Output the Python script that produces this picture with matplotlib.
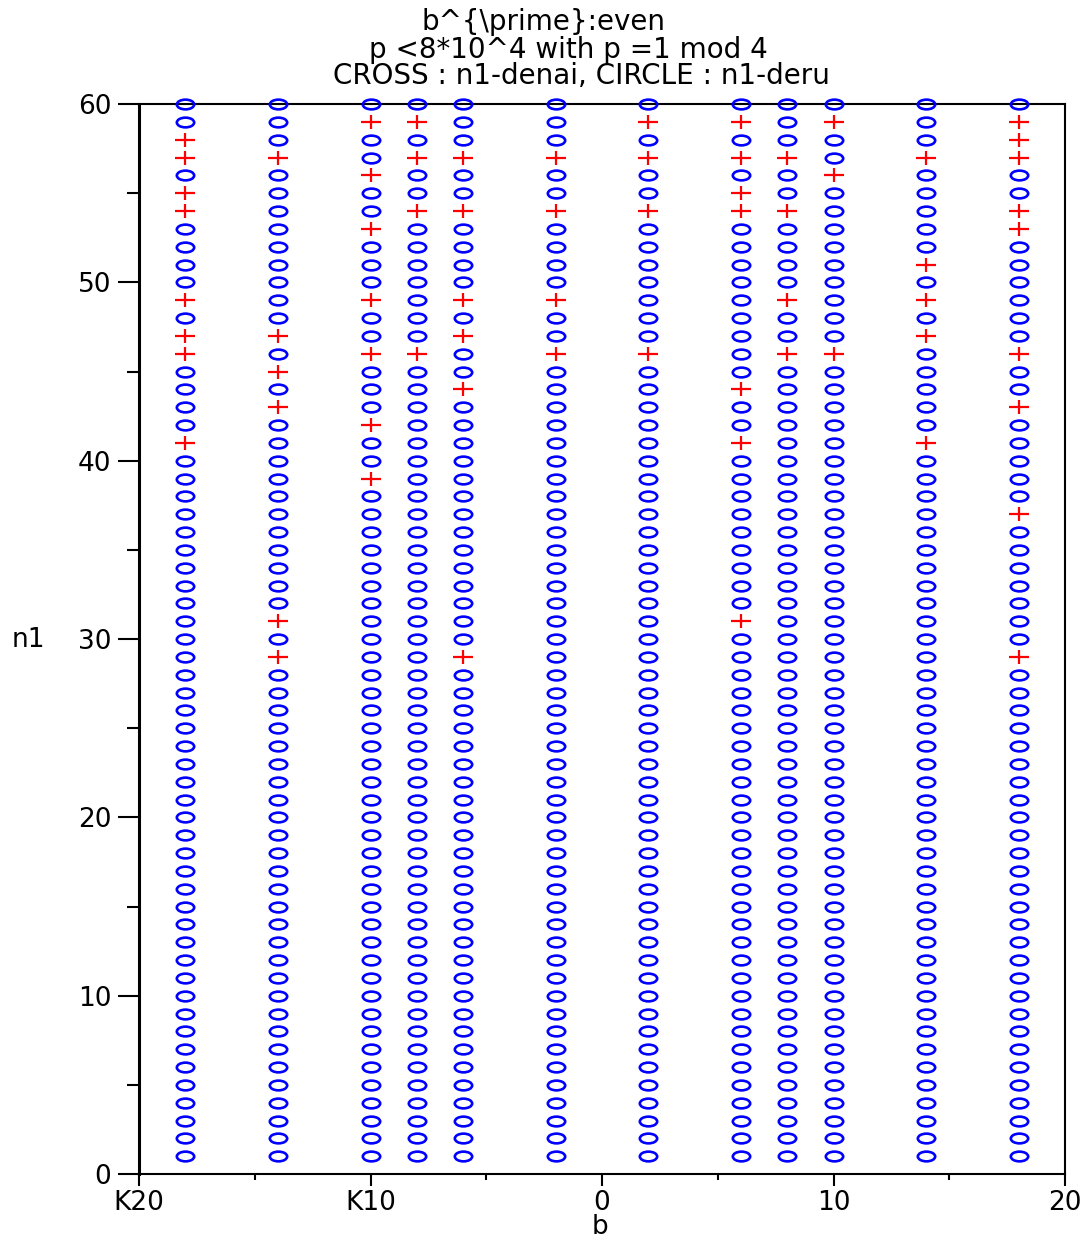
import matplotlib
matplotlib.use("Agg")
import matplotlib.pyplot as plt
from matplotlib.path import Path
from matplotlib.transforms import Affine2D
from matplotlib.ticker import FixedLocator

# ===== DATA =====
b_values = [-18, -14, -10, -8, -6, -2, 2, 6, 8, 10, 14, 18]
n1_values = list(range(1, 61))

# n1 values marked with a cross (n1-denai), one list per b column
denai_m18 = [41, 46, 47, 49, 54, 55, 57, 58]
denai_m14 = [29, 31, 43, 45, 47, 57]
denai_m10 = [39, 42, 46, 49, 53, 56, 59]
denai_m8 = [46, 54, 57, 59]
denai_m6 = [29, 44, 47, 49, 54, 57]
denai_m2 = [46, 49, 54, 57]
denai_p2 = [46, 54, 57, 59]
denai_p6 = [31, 41, 44, 54, 55, 57, 59]
denai_p8 = [46, 49, 54, 57]
denai_p10 = [46, 56, 59]
denai_p14 = [41, 47, 49, 51, 57]
denai_p18 = [29, 37, 43, 46, 53, 54, 57, 58, 59]
denai_cols = [denai_m18, denai_m14, denai_m10, denai_m8, denai_m6, denai_m2,
              denai_p2, denai_p6, denai_p8, denai_p10, denai_p14, denai_p18]

xtick_values = [-20, -10, 0, 10, 20]
xtick_labels = ["K20", "K10", "0", "10", "20"]
ytick_values = [0, 10, 20, 30, 40, 50, 60]

title_lines = ["b^{\\prime}:even",
               "p <8*10^4 with p =1 mod 4",
               "CROSS : n1-denai, CIRCLE : n1-deru"]

# ===== MARKERS (flattened like the original) =====
ellipse = Path.unit_circle().transformed(Affine2D().scale(1, 0.56))
plus = Path([(-1, 0), (1, 0), (0, -0.65), (0, 0.65)],
            [Path.MOVETO, Path.LINETO, Path.MOVETO, Path.LINETO])

plt.rcParams['font.family'] = ['DejaVu Sans']

W, H = 1086, 1241
fig = plt.figure(figsize=(W / 100, H / 100), dpi=100)
ax = fig.add_axes([139 / W, 1 - 1174 / H, (1065 - 139) / W, (1174 - 104) / H])

for b, crosses in zip(b_values, denai_cols):
    xs_c, ys_c, xs_o, ys_o = [], [], [], []
    for n in n1_values:
        if n in crosses:
            xs_c.append(b); ys_c.append(n)
        else:
            xs_o.append(b); ys_o.append(n)
    ax.plot(xs_o, ys_o, linestyle="none", marker=ellipse, markersize=12.5,
            markerfacecolor="none", markeredgecolor="#0000ff",
            markeredgewidth=1.9, clip_on=False, zorder=3)
    ax.plot(xs_c, ys_c, linestyle="none", marker=plus, markersize=15,
            markerfacecolor="none", markeredgecolor="#ff0000",
            markeredgewidth=1.6, clip_on=False, zorder=3)

ax.set_xlim(-20, 20)
ax.set_ylim(0, 60)

# ===== TICKS =====
ax.xaxis.set_major_locator(FixedLocator(xtick_values))
ax.xaxis.set_minor_locator(FixedLocator([-15, -5, 5, 15]))
ax.yaxis.set_major_locator(FixedLocator(ytick_values))
ax.yaxis.set_minor_locator(FixedLocator([5, 15, 25, 35, 45, 55]))
ax.set_xticklabels(xtick_labels)
ax.tick_params(axis="x", which="major", direction="out", length=8.6, width=1.5,
               labelsize=19, pad=3)
ax.tick_params(axis="x", which="minor", direction="out", length=4.3, width=1.5)
ax.tick_params(axis="y", which="major", direction="out", length=15, width=1.5,
               labelsize=19, pad=5)
ax.tick_params(axis="y", which="minor", direction="out", length=8.6, width=1.5)

for side in ["top", "right", "bottom"]:
    ax.spines[side].set_linewidth(1.5)
ax.spines["left"].set_linewidth(2.2)

# ===== LABELS & TITLE =====
fig.text(28 / W, 1 - 640 / H, "n1", ha="center", va="center", fontsize=19)
fig.text(600 / W, 1 - 1234 / H, "b", ha="center", va="baseline", fontsize=19)

title_x = [543, 568, 581]
title_base = [30, 58, 84]
for txt, tx, ty in zip(title_lines, title_x, title_base):
    fig.text(tx / W, 1 - ty / H, txt, ha="center", va="baseline", fontsize=20)

fig.savefig("out.png", dpi=100)
